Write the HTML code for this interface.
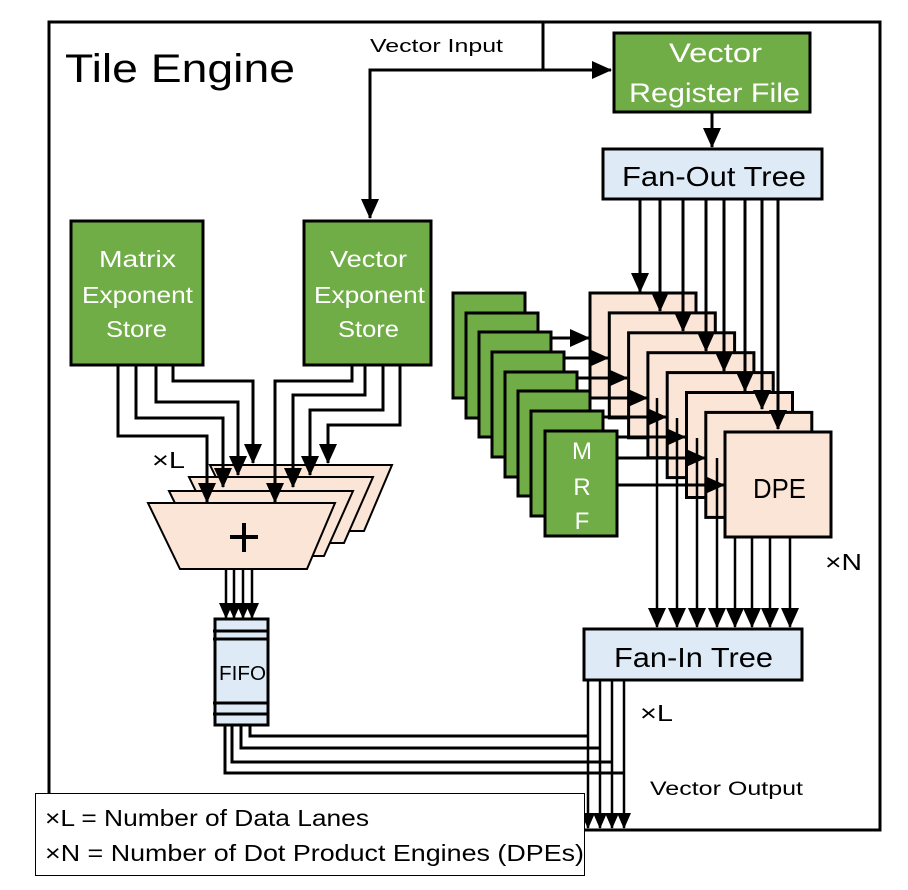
<!DOCTYPE html>
<html><head><meta charset="utf-8"><style>body{margin:0;background:#fff}svg{display:block}</style></head><body>
<svg width="908" height="890" viewBox="0 0 908 890" xmlns="http://www.w3.org/2000/svg" font-family="Liberation Sans, sans-serif">
<defs>
<marker id="a" markerUnits="userSpaceOnUse" markerWidth="20" markerHeight="18" viewBox="0 0 20 18" refX="19" refY="9" orient="auto"><path d="M0,0 L20,9 L0,18 Z" fill="#000"/></marker>
<marker id="b" markerUnits="userSpaceOnUse" markerWidth="16" markerHeight="14" viewBox="0 0 16 14" refX="15" refY="7" orient="auto"><path d="M0,0 L16,7 L0,14 Z" fill="#000"/></marker>
</defs>
<rect x="49" y="22" width="831" height="808" fill="#fff" stroke="#000" stroke-width="3"/>
<text x="65" y="82" font-size="40" textLength="230" lengthAdjust="spacingAndGlyphs">Tile Engine</text>
<g stroke="#000" stroke-width="3" fill="none">
<path d="M543,22 V70 H370 V218" marker-end="url(#a)"/>
<path d="M543,70 H611" marker-end="url(#a)"/>
<path d="M712,112 V147" marker-end="url(#a)"/>
</g>
<text x="370" y="52" font-size="18" textLength="133" lengthAdjust="spacingAndGlyphs">Vector Input</text>
<rect x="614" y="33" width="196" height="79" fill="#70AD47" stroke="#000" stroke-width="3"/>
<text x="669" y="62" font-size="27" fill="#fff" textLength="93" lengthAdjust="spacingAndGlyphs">Vector</text>
<text x="629" y="102" font-size="27" fill="#fff" textLength="171" lengthAdjust="spacingAndGlyphs">Register File</text>
<rect x="603" y="149" width="219" height="50" fill="#DEEBF7" stroke="#000" stroke-width="3"/>
<text x="622" y="186" font-size="28" textLength="184" lengthAdjust="spacingAndGlyphs">Fan-Out Tree</text>
<!-- DPEs -->
<g stroke="#000" stroke-width="3" fill="#FBE5D6">
<rect x="590" y="293" width="106" height="105"/>
<rect x="609.3" y="312.9" width="106" height="105"/>
<rect x="628.6" y="332.8" width="106" height="105"/>
<rect x="647.9" y="352.7" width="106" height="105"/>
<rect x="667.2" y="372.6" width="106" height="105"/>
<rect x="686.5" y="392.5" width="106" height="105"/>
<rect x="705.8" y="412.4" width="106" height="105"/>
<rect x="725" y="432" width="106" height="105"/>
</g>
<text x="753" y="498" font-size="28" textLength="53" lengthAdjust="spacingAndGlyphs">DPE</text>
<!-- fan-out lines -->
<g stroke="#000" stroke-width="3" fill="none" marker-end="url(#a)">
<path d="M640,199 V292"/><path d="M660,199 V311"/><path d="M683,199 V331"/><path d="M706,199 V351"/>
<path d="M724,199 V371"/><path d="M745,199 V391"/><path d="M762,199 V409"/><path d="M778,199 V429"/>
</g>
<!-- MRF arrows -->
<g stroke="#000" stroke-width="3" fill="none" marker-end="url(#a)">
<path d="M551,338 H589"/><path d="M564,358 H608"/><path d="M577,378 H627"/><path d="M590,398 H647"/>
<path d="M603,417 H666"/><path d="M617,437 H685"/><path d="M617,458 H705"/><path d="M617,485 H724"/>
</g>
<!-- MRFs -->
<g stroke="#000" stroke-width="3" fill="#70AD47">
<rect x="453" y="293" width="72" height="105"/>
<rect x="466" y="313" width="72" height="105"/>
<rect x="479" y="332" width="72" height="105"/>
<rect x="492" y="352" width="72" height="105"/>
<rect x="505" y="372" width="72" height="105"/>
<rect x="518" y="391" width="72" height="105"/>
<rect x="531" y="411" width="72" height="105"/>
<rect x="545" y="431" width="72" height="105"/>
</g>
<g fill="#fff" font-size="24" text-anchor="middle"><text x="582" y="459">M</text><text x="582" y="495">R</text><text x="582" y="529">F</text></g>
<!-- DPE outputs -->
<g stroke="#000" stroke-width="2.5" fill="none" marker-end="url(#a)">
<path d="M657,398 V627"/><path d="M677,418 V627"/><path d="M697,438 V627"/><path d="M717,458 V627"/>
<path d="M735,537 V627"/><path d="M752,537 V627"/><path d="M770,537 V627"/><path d="M790,537 V627"/>
</g>
<text x="825" y="570" font-size="23" textLength="37" lengthAdjust="spacingAndGlyphs">×N</text>
<rect x="584" y="629" width="218" height="51" fill="#DEEBF7" stroke="#000" stroke-width="3"/>
<text x="614" y="667" font-size="28" textLength="159" lengthAdjust="spacingAndGlyphs">Fan-In Tree</text>
<text x="640" y="721" font-size="23" textLength="33" lengthAdjust="spacingAndGlyphs">×L</text>
<!-- exponent stores -->
<rect x="71" y="221" width="132" height="144" fill="#70AD47" stroke="#000" stroke-width="3"/>
<g fill="#fff" font-size="23"><text x="99" y="267" textLength="77" lengthAdjust="spacingAndGlyphs">Matrix</text><text x="82" y="303" textLength="111" lengthAdjust="spacingAndGlyphs">Exponent</text><text x="106" y="337" textLength="61" lengthAdjust="spacingAndGlyphs">Store</text></g>
<rect x="304" y="221" width="127" height="144" fill="#70AD47" stroke="#000" stroke-width="3"/>
<g fill="#fff" font-size="23"><text x="330" y="267" textLength="77" lengthAdjust="spacingAndGlyphs">Vector</text><text x="314" y="303" textLength="111" lengthAdjust="spacingAndGlyphs">Exponent</text><text x="338" y="337" textLength="61" lengthAdjust="spacingAndGlyphs">Store</text></g>
<!-- adders -->
<g stroke="#000" stroke-width="2" fill="#FBE5D6">
<path d="M210,465 H392 L364,531 H242 Z"/>
<path d="M189,477 H373 L344,543 H221 Z"/>
<path d="M169,491 H353 L324,556 H201 Z"/>
<path d="M148,503 H335 L307,569 H180 Z"/>
</g>
<path d="M230,537 H258 M244,523 V552" stroke="#000" stroke-width="4"/>
<g stroke="#000" stroke-width="3" fill="none" marker-end="url(#a)">
<path d="M118,365 V436 H207 V502"/><path d="M136,365 V418 H223 V487"/><path d="M156,365 V402 H238 V475"/><path d="M173,365 V381 H253 V463"/>
<path d="M400,365 V425 H328 V463"/><path d="M383,365 V410 H310 V475"/><path d="M365,365 V395 H293 V487"/><path d="M352,365 V381 H275 V502"/>
</g>
<text x="152" y="468" font-size="23" textLength="33" lengthAdjust="spacingAndGlyphs">×L</text>
<g stroke="#000" stroke-width="2.5" fill="none" marker-end="url(#b)">
<path d="M226,569 V618"/><path d="M234,569 V618"/><path d="M243,569 V618"/><path d="M252,569 V618"/>
</g>
<rect x="215" y="619" width="53" height="106" fill="#DEEBF7" stroke="#000" stroke-width="3"/>
<g stroke="#000" stroke-width="3"><path d="M213,631 H268 M213,639 H268 M213,703 H268 M213,714 H268"/></g>
<text x="219" y="680" font-size="20" textLength="47" lengthAdjust="spacingAndGlyphs">FIFO</text>
<g stroke="#000" stroke-width="3" fill="none">
<path d="M250,725 V736 H588"/><path d="M241,725 V748 H600"/><path d="M232,725 V762 H612"/><path d="M225,725 V773 H624"/>
</g>
<g stroke="#000" stroke-width="2.5" fill="none" marker-end="url(#b)">
<path d="M588,680 V828"/><path d="M600,680 V828"/><path d="M612,680 V828"/><path d="M624,680 V828"/>
</g>
<text x="650" y="795" font-size="19" textLength="153" lengthAdjust="spacingAndGlyphs">Vector Output</text>
<rect x="35.5" y="793.5" width="549" height="82" fill="#fff" stroke="#000" stroke-width="1"/>
<text x="45" y="826" font-size="23" textLength="324" lengthAdjust="spacingAndGlyphs">×L = Number of Data Lanes</text>
<text x="45" y="861" font-size="23" textLength="539" lengthAdjust="spacingAndGlyphs">×N = Number of Dot Product Engines (DPEs)</text>
</svg>
</body></html>
